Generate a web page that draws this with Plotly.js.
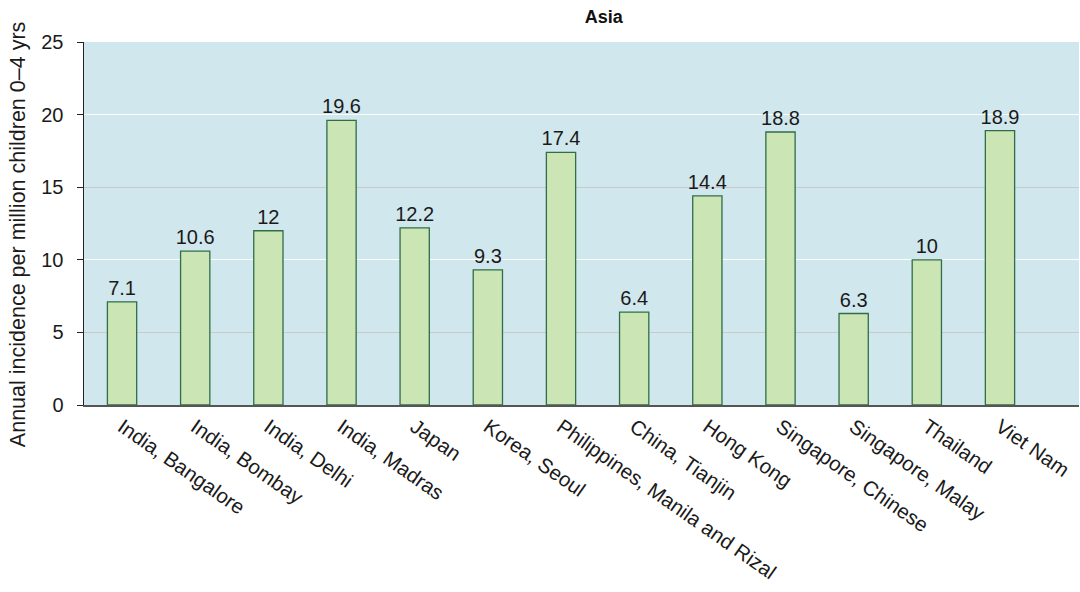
<!DOCTYPE html>
<html><head><meta charset="utf-8">
<script src="https://cdn.plot.ly/plotly-3.0.1.min.js"></script>
<style>html,body{margin:0;padding:0;background:#fff}#chart{width:1080px;height:592px}</style>
</head><body><div id="chart"></div>
<script>
const categories = ["India, Bangalore","India, Bombay","India, Delhi","India, Madras","Japan","Korea, Seoul","Philippines, Manila and Rizal","China, Tianjin","Hong Kong","Singapore, Chinese","Singapore, Malay","Thailand","Viet Nam"];
const values = [7.1,10.6,12,19.6,12.2,9.3,17.4,6.4,14.4,18.8,6.3,10,18.9];
const labels = ["7.1","10.6","12","19.6","12.2","9.3","17.4","6.4","14.4","18.8","6.3","10","18.9"];
const yTicks = [0,5,10,15,20,25];
const whiteGrid = [10,20];
const yTitle = "Annual incidence per million children 0\u20134 yrs";

const font = "Liberation Sans, Arial, sans-serif";
const data = [{
  type: "bar",
  x: categories.map((c,i)=>i),
  y: values,
  text: labels,
  textposition: "outside",
  constraintext: "none",
  cliponaxis: false,
  textfont: {family: font, size: 20, color: "#1a1a1a"},
  marker: {color: "#cce5b5", line: {color: "#2f6e48", width: 1.3}},
  width: 0.4,
  hoverinfo: "x+y"
},{
  type: "scatter", x: [0], y: [0], yaxis: "y2", mode: "markers",
  marker: {opacity: 0}, showlegend: false, hoverinfo: "skip"
}];
const layout = {
  width: 1080, height: 592,
  margin: {l: 84, r: 1, t: 42, b: 187},
  paper_bgcolor: "#ffffff",
  plot_bgcolor: "#d0e7ee",
  showlegend: false,
  bargap: 0.6,
  font: {family: font, color: "#1a1a1a"},
  title: {text: "<b>Asia</b>", x: 0.559, xanchor: "center", y: 0.972, yanchor: "middle", font: {size: 18, family: font, color: "#111"}},
  xaxis: {
    range: [-0.52, 13.08],
    tickvals: categories.map((c,i)=>i),
    ticktext: categories,
    tickangle: 35,
    ticks: "",
    tickfont: {size: 20.5, family: font, color: "#1a1a1a"},
    showgrid: false,
    showline: true, linecolor: "#555555", linewidth: 2,
    zeroline: false,
    fixedrange: true
  },
  yaxis: {
    range: [0, 25],
    tickvals: yTicks,
    ticks: "outside", ticklen: 6, tickcolor: "#222", tickwidth: 1,
    ticklabelstandoff: 9,
    tickfont: {size: 20, family: font, color: "#1a1a1a"},
    showline: true, linecolor: "#222", linewidth: 1.5,
    gridcolor: "#c9c9c9", gridwidth: 1,
    zeroline: false
  },
  yaxis2: {
    overlaying: "y", range: [0, 25], tickvals: whiteGrid,
    showticklabels: false, ticks: "", gridcolor: "#ffffff", gridwidth: 1.2,
    zeroline: false, showline: false
  },
  annotations: [{
    text: yTitle, textangle: -90, showarrow: false,
    xref: "paper", yref: "paper", x: -0.0663, y: 0.468,
    xanchor: "center", yanchor: "middle",
    font: {size: 21.5, family: font, color: "#1a1a1a"}
  }]
};
Plotly.newPlot("chart", data, layout, {displayModeBar: false, staticPlot: true});
</script></body></html>
